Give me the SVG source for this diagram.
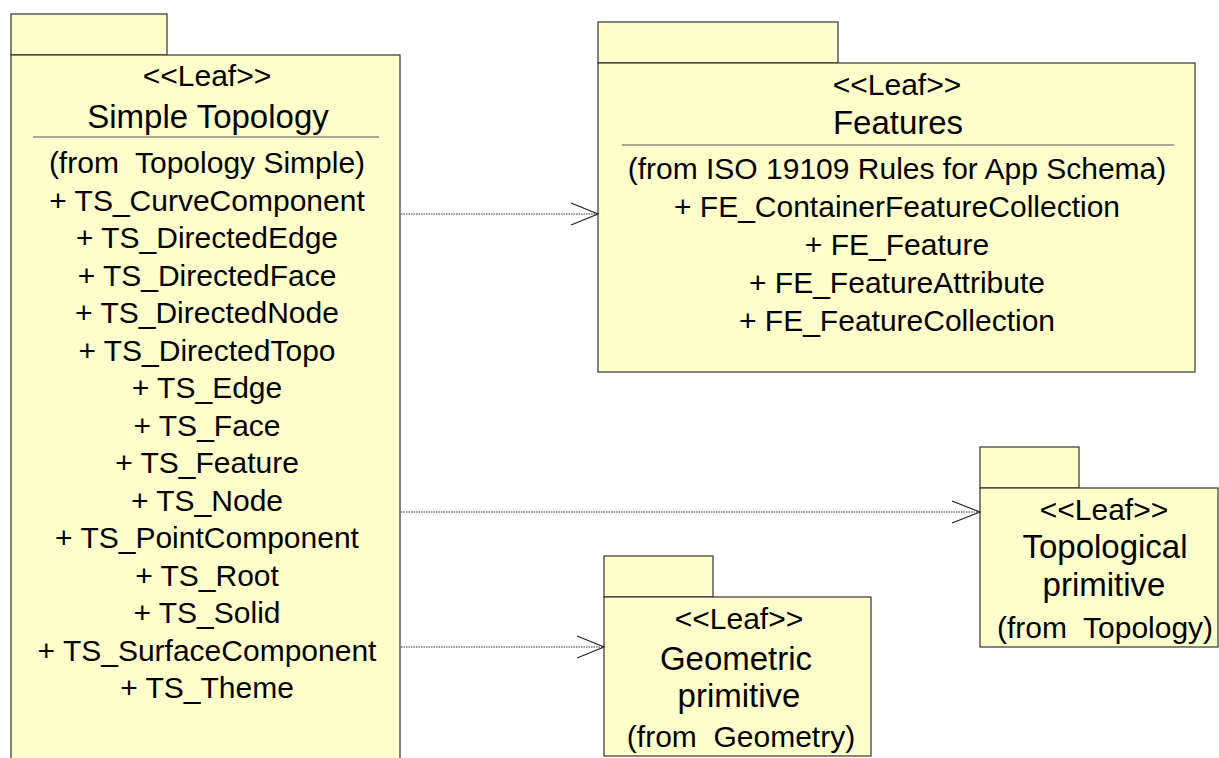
<svg xmlns="http://www.w3.org/2000/svg" width="1219" height="758" viewBox="0 0 1219 758">
<defs>
<style>
.pkg{fill:#FFFFCC;stroke:#333333;stroke-width:1.2}
.div{stroke:#555555;stroke-width:1.2}
text{font-family:"Liberation Sans",Arial,sans-serif;font-size:30px;fill:#000;text-anchor:middle;white-space:pre}
text.name{font-size:33px}
.conn{stroke:#333333;stroke-width:1;stroke-dasharray:1.5,1;fill:none}
.head{stroke:#222222;stroke-width:1.2;fill:none}
</style>
</defs>
<rect width="1219" height="758" fill="#FFFFFF"/>
<g id="simple-topology">
<rect class="pkg" x="11" y="14" width="156" height="41"/>
<rect class="pkg" x="11" y="55" width="389" height="720"/>
<line class="div" x1="33" y1="137" x2="379" y2="137"/>
<text x="207" y="86">&lt;&lt;Leaf&gt;&gt;</text>
<text class="name" x="208" y="128">Simple Topology</text>
<text x="207" y="173" xml:space="preserve">(from  Topology Simple)</text>
<text x="207" y="211">+ TS_CurveComponent</text>
<text x="207" y="248">+ TS_DirectedEdge</text>
<text x="207" y="286">+ TS_DirectedFace</text>
<text x="207" y="323">+ TS_DirectedNode</text>
<text x="207" y="361">+ TS_DirectedTopo</text>
<text x="207" y="398">+ TS_Edge</text>
<text x="207" y="436">+ TS_Face</text>
<text x="207" y="473">+ TS_Feature</text>
<text x="207" y="511">+ TS_Node</text>
<text x="207" y="548">+ TS_PointComponent</text>
<text x="207" y="586">+ TS_Root</text>
<text x="207" y="623">+ TS_Solid</text>
<text x="207" y="661">+ TS_SurfaceComponent</text>
<text x="207" y="698">+ TS_Theme</text>
</g>
<g id="features">
<rect class="pkg" x="598" y="22" width="240" height="41"/>
<rect class="pkg" x="598" y="63" width="597" height="309"/>
<line class="div" x1="622" y1="145" x2="1174" y2="145"/>
<text x="897" y="95">&lt;&lt;Leaf&gt;&gt;</text>
<text class="name" x="898" y="134">Features</text>
<text x="897" y="179">(from ISO 19109 Rules for App Schema)</text>
<text x="897" y="217">+ FE_ContainerFeatureCollection</text>
<text x="897" y="255">+ FE_Feature</text>
<text x="897" y="293">+ FE_FeatureAttribute</text>
<text x="897" y="331">+ FE_FeatureCollection</text>
</g>
<g id="topological-primitive">
<rect class="pkg" x="980" y="447" width="99" height="41"/>
<rect class="pkg" x="980" y="488" width="238" height="159"/>
<text x="1104" y="520">&lt;&lt;Leaf&gt;&gt;</text>
<text class="name" x="1105" y="558">Topological</text>
<text class="name" x="1104" y="596">primitive</text>
<text x="1105" y="638" xml:space="preserve">(from  Topology)</text>
</g>
<g id="geometric-primitive">
<rect class="pkg" x="604" y="556" width="109" height="41"/>
<rect class="pkg" x="604" y="597" width="267" height="159"/>
<text x="739" y="629">&lt;&lt;Leaf&gt;&gt;</text>
<text class="name" x="736" y="670">Geometric</text>
<text class="name" x="739" y="707">primitive</text>
<text x="741" y="747" xml:space="preserve">(from  Geometry)</text>
</g>
<g id="connectors">
<line class="conn" x1="401" y1="214" x2="597" y2="214"/>
<polyline class="head" points="571,203 598,214 571,225"/>
<line class="conn" x1="401" y1="512" x2="979" y2="512"/>
<polyline class="head" points="952,501 980,512 952,523"/>
<line class="conn" x1="401" y1="647" x2="603" y2="647"/>
<polyline class="head" points="577,636 604,647 577,658"/>
</g>
</svg>
